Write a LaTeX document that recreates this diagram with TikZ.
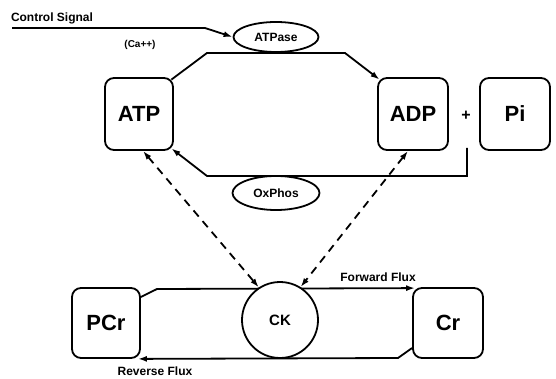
\documentclass[tikz,border=0pt]{standalone}
\usepackage{fontspec}
\setmainfont{Liberation Sans}
\usetikzlibrary{shapes.geometric,arrows.meta,calc}
\tikzset{
  box/.style={draw, line width=1.8pt, rounded corners=9pt, minimum width=68pt, minimum height=72pt, inner sep=0pt, font=\fontsize{22}{26}\selectfont\bfseries},
  oval/.style={draw, ellipse, line width=1.8pt, inner sep=0pt, font=\fontsize{12}{14}\selectfont\bfseries},
  lbl/.style={font=\fontsize{12}{14}\selectfont\bfseries, inner sep=0pt},
  flow/.style={line width=1.8pt, -{Latex[length=9pt,width=6pt]}},
  dflow/.style={line width=1.8pt, dash pattern=on 8pt off 6pt, {Latex[length=9pt,width=6pt]}-{Latex[length=9pt,width=6pt]}}
}
\begin{document}
\begin{tikzpicture}[x=1pt,y=-1pt]
\useasboundingbox[fill=white] (0,0) rectangle (556,379);
% nodes
\node[box] (ATP) at (139,114) {ATP};
\node[box, minimum width=70pt] (ADP) at (413,114) {ADP};
\node[box, minimum width=70pt] (Pi) at (515,114) {Pi};
\node[lbl, font=\fontsize{16}{18}\selectfont\bfseries] (plus) at (466,116) {+};
\node[oval, minimum width=85pt, minimum height=30pt] (ATPase) at (276,37) {ATPase};
\node[oval, minimum width=87pt, minimum height=34pt] (OxPhos) at (276,193) {OxPhos};
\node[box, minimum height=70pt] (PCr) at (106,323) {PCr};
\node[box, minimum width=70pt, minimum height=70pt] (Cr) at (448,323) {Cr};
\node[lbl] (ctl) at (52,18) {Control Signal};
\node[lbl, font=\fontsize{10}{12}\selectfont\bfseries] (ca) at (140,45) {(Ca++)};
\node[lbl] (ff) at (378,277) {Forward Flux};
\node[lbl] (rf) at (155,371) {Reverse Flux};
\coordinate (cs) at (12,28);
\coordinate (pj) at (467,148);
% top loop
\draw[flow] (cs) -- (205,28) -- (ATPase.west);
\draw[flow] ($(ATP.north east)+(-2.5,2.5)$) -- (207,53) -- (345,53) -- ($(ADP.north west)+(2.5,2.5)$);
\draw[flow] (pj) -- (467,176) -- (207,176) -- ($(ATP.south east)+(-2.5,-2.5)$);
% bottom loop
\draw[flow] ($(PCr.east)+(0,-26)$) -- (157,289) -- ($(Cr.north west)+(3,1)$);
\draw[flow] ($(Cr.west)+(0,25)$) -- (398,358) -- ($(PCr.south east)+(-3,0)$);
\node[draw, circle, line width=1.8pt, fill=white, minimum size=76pt, inner sep=0pt, font=\fontsize{15}{18}\selectfont\bfseries] (CK) at (280,320) {CK};
% dashed
\draw[dflow] ($(ATP.south)+(4,0)$) -- (CK.123);
\draw[dflow] ($(ADP.south)+(-5,0)$) -- (CK.58);
\end{tikzpicture}
\end{document}
